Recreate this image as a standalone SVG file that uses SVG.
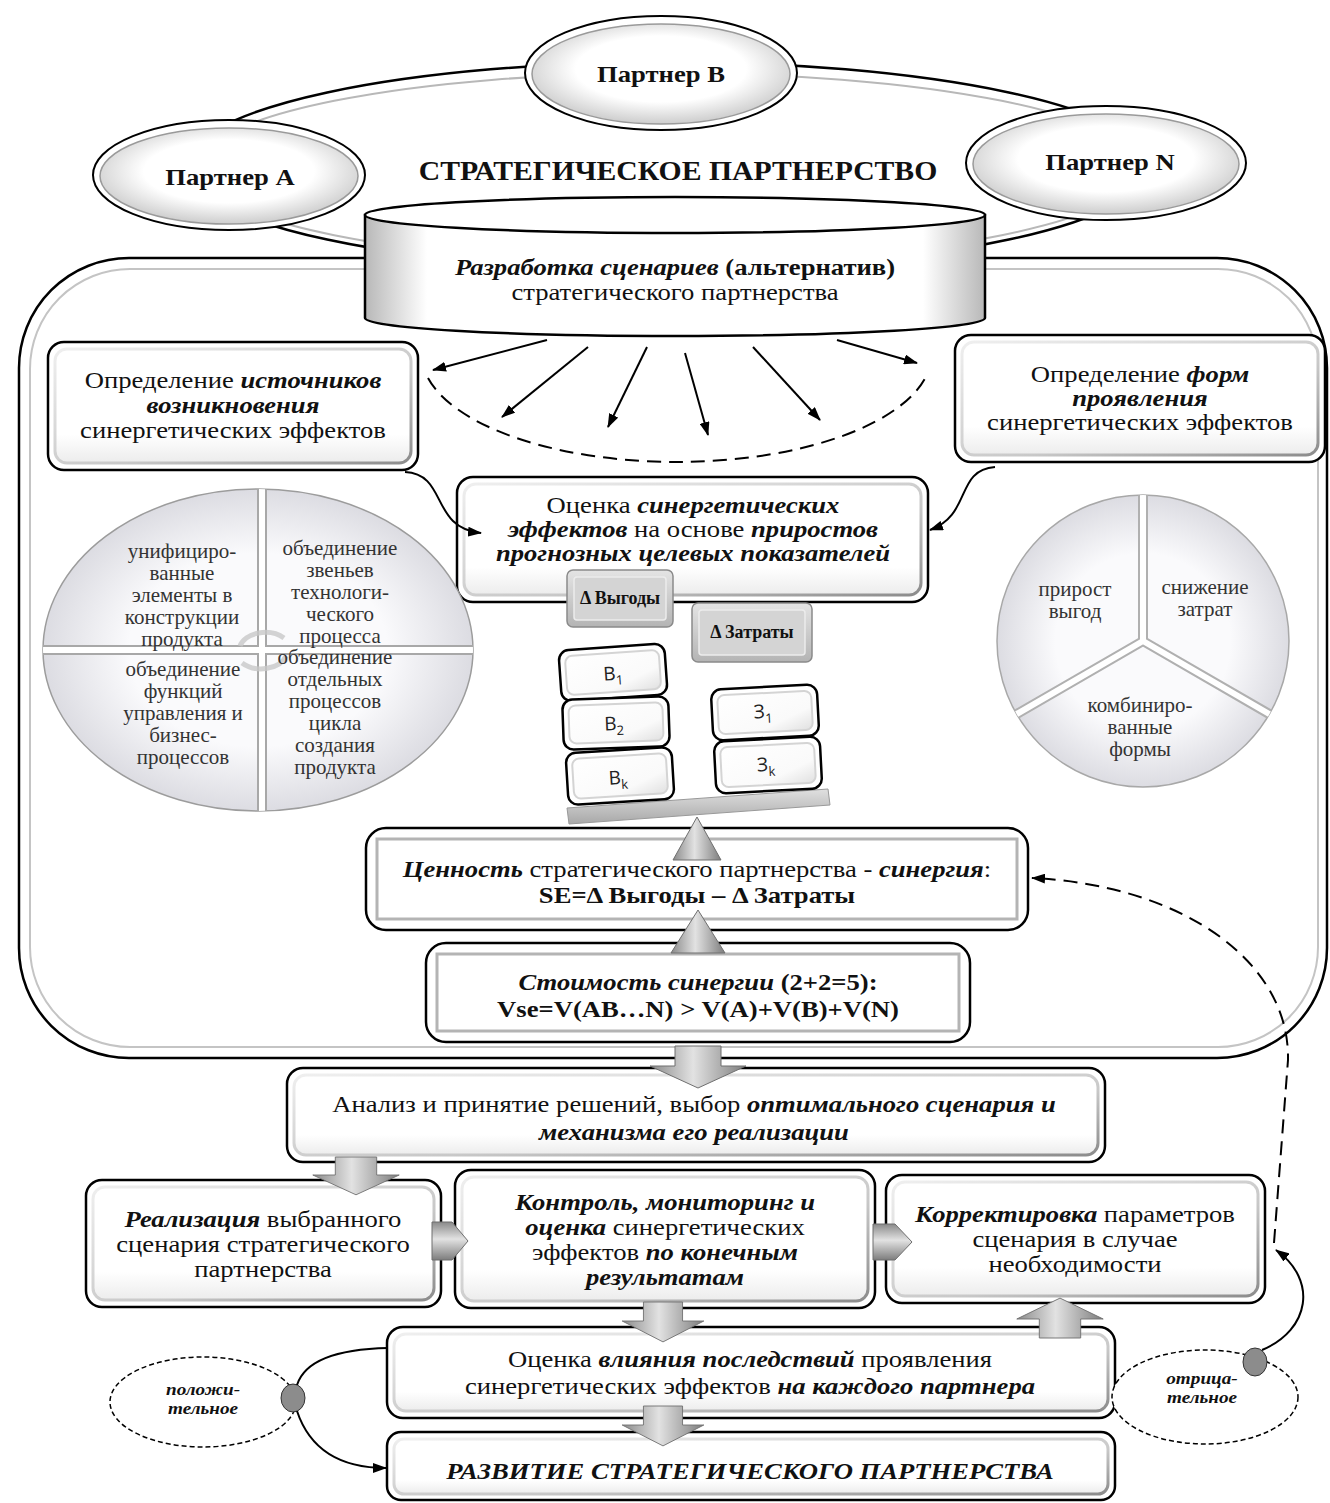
<svg xmlns="http://www.w3.org/2000/svg" width="1330" height="1503" viewBox="0 0 1330 1503">
<defs>
<style>
.t{font-family:"Liberation Serif","Times New Roman",serif;font-size:24px;fill:#111;text-anchor:middle}
.bi{font-weight:bold;font-style:italic}
.b{font-weight:bold}
.p{font-size:21px;fill:#333}
.tt{font-size:27px}
.sm{font-size:18px}
.xs{font-size:16px}
.ob{fill:#fff;stroke:#000;stroke-width:2.5}
.ib{fill:url(#inG);stroke:url(#bevG);stroke-width:3}
.sq{fill:none;stroke:#b4b4b4;stroke-width:3}
.c{fill:none;stroke:#000;stroke-width:2}
.d{stroke-dasharray:14 8}
.ga{fill:url(#arG);stroke:#6f6f6f;stroke-width:1}
.gv{fill:url(#arV);stroke:#6f6f6f;stroke-width:1}
.bin{fill:url(#blkG);stroke:#d4d4d4;stroke-width:2}
.s{font-family:"Open Sans","DejaVu Sans",sans-serif;font-size:19px;fill:#222;text-anchor:middle}
.sub{font-size:13px}
.pe{fill:#fff;stroke:#000;stroke-width:2}
.pi{fill:url(#ellG);stroke:#9a9a9a;stroke-width:1.5}
</style>
<linearGradient id="inG" x1="0" y1="0" x2="0" y2="1"><stop offset="0" stop-color="#fff"/><stop offset="0.75" stop-color="#fff"/><stop offset="1" stop-color="#ececec"/></linearGradient>
<linearGradient id="bevG" x1="0" y1="0" x2="1" y2="1"><stop offset="0" stop-color="#efefef"/><stop offset="0.6" stop-color="#c8c8c8"/><stop offset="1" stop-color="#8c8c8c"/></linearGradient>
<linearGradient id="arG" x1="0" y1="0" x2="1" y2="0"><stop offset="0" stop-color="#8a8a8a"/><stop offset="0.45" stop-color="#e2e2e2"/><stop offset="1" stop-color="#7d7d7d"/></linearGradient>
<linearGradient id="arV" x1="0" y1="0" x2="0" y2="1"><stop offset="0" stop-color="#8a8a8a"/><stop offset="0.45" stop-color="#e2e2e2"/><stop offset="1" stop-color="#7d7d7d"/></linearGradient>
<linearGradient id="blkG" x1="0" y1="0" x2="1" y2="1"><stop offset="0" stop-color="#fff"/><stop offset="0.7" stop-color="#fafafa"/><stop offset="1" stop-color="#e0e0e0"/></linearGradient>
<linearGradient id="btnG" x1="0" y1="0" x2="0" y2="1"><stop offset="0" stop-color="#e4e4e4"/><stop offset="1" stop-color="#b4b4b4"/></linearGradient>
<linearGradient id="cylG" x1="0" y1="0" x2="1" y2="0"><stop offset="0" stop-color="#b8b8b8"/><stop offset="0.1" stop-color="#fff"/><stop offset="0.9" stop-color="#fff"/><stop offset="1" stop-color="#b8b8b8"/></linearGradient>
<radialGradient id="ellG" cx="0.5" cy="0.45" r="0.55"><stop offset="0.6" stop-color="#fff"/><stop offset="1" stop-color="#cdcdcd"/></radialGradient>
<radialGradient id="pieG" cx="0.5" cy="0.5" r="0.5"><stop offset="0.6" stop-color="#fafafc"/><stop offset="1" stop-color="#dcdce2"/></radialGradient>
<linearGradient id="beamG" x1="0" y1="0" x2="0" y2="1"><stop offset="0" stop-color="#e0e0e0"/><stop offset="1" stop-color="#a8a8a8"/></linearGradient>
<marker id="ah" viewBox="0 0 14 10" refX="13" refY="5" markerWidth="14" markerHeight="10" markerUnits="userSpaceOnUse" orient="auto"><path d="M0,0 L14,5 L0,10 z" fill="#000"/></marker>
<path id="dA" d="M -23 0 H 23 V 20 H 48 L 0 42 L -48 20 H -23 Z"/>
<clipPath id="lpC"><ellipse cx="258" cy="650" rx="215" ry="161"/></clipPath>
<clipPath id="rpC"><circle cx="1143" cy="641" r="146"/></clipPath>
</defs>

<rect width="1330" height="1503" fill="#fff"/>

<!-- partnership ring -->
<g id="ring">
<ellipse cx="668" cy="166" rx="482" ry="104" fill="#fff" stroke="#000" stroke-width="2.5"/>
<ellipse cx="668" cy="168" rx="472" ry="95" fill="none" stroke="#b8b8b8" stroke-width="2"/>
</g>

<g id="partnerB">
<ellipse class="pe" cx="661" cy="73" rx="136" ry="57"/>
<ellipse class="pi" cx="661" cy="74" rx="129" ry="50"/>
<g transform="translate(661 0) scale(1.11 1)"><text class="t b" x="0" y="82">Партнер В</text></g>
</g>
<g id="partnerA">
<ellipse class="pe" cx="229" cy="175" rx="136" ry="55"/>
<ellipse class="pi" cx="229" cy="176" rx="129" ry="48"/>
<g transform="translate(230 0) scale(1.11 1)"><text class="t b" x="0" y="185">Партнер А</text></g>
</g>
<g id="partnerN">
<ellipse class="pe" cx="1106" cy="163" rx="140" ry="57"/>
<ellipse class="pi" cx="1106" cy="164" rx="133" ry="50"/>
<g transform="translate(1110 0) scale(1.11 1)"><text class="t b" x="0" y="170">Партнер N</text></g>
</g>

<g id="title" transform="translate(678 0) scale(1.1 1)"><text class="t b tt" x="0" y="180">СТРАТЕГИЧЕСКОЕ ПАРТНЕРСТВО</text></g>

<!-- big container -->
<g id="container">
<rect x="19" y="258" width="1308" height="800" rx="110" fill="#fff" stroke="#000" stroke-width="2.5"/>
<rect x="30" y="269" width="1288" height="778" rx="100" fill="none" stroke="#c4c4c4" stroke-width="2"/>
</g>

<!-- cylinder -->
<g id="scenarios">
<path d="M 365 215 L 365 318 A 310 18 0 0 0 985 318 L 985 215 Z" fill="url(#cylG)" stroke="#000" stroke-width="2.5"/>
<ellipse cx="675" cy="215" rx="310" ry="18" fill="#fff" stroke="#000" stroke-width="2.5"/>
<g transform="translate(675 0) scale(1.11 1)">
<text class="t" x="0" y="275"><tspan class="bi">Разработка сценариев</tspan><tspan class="b"> (альтернатив)</tspan></text>
<text class="t" x="0" y="300">стратегического партнерства</text>
</g>
</g>

<g id="sources">
<rect class="ob" x="48" y="342" width="370" height="128" rx="16"/>
<rect class="ib" x="55" y="349" width="356" height="114" rx="12"/>
<g transform="translate(233 0) scale(1.11 1)">
<text class="t" x="0" y="388">Определение <tspan class="bi">источников</tspan></text>
<text class="t bi" x="0" y="413">возникновения</text>
<text class="t" x="0" y="438">синергетических эффектов</text>
</g>
</g>

<g id="forms">
<rect class="ob" x="955" y="335" width="370" height="127" rx="16"/>
<rect class="ib" x="962" y="342" width="356" height="113" rx="12"/>
<g transform="translate(1140 0) scale(1.11 1)">
<text class="t" x="0" y="382">Определение <tspan class="bi">форм</tspan></text>
<text class="t bi" x="0" y="406">проявления</text>
<text class="t" x="0" y="430">синергетических эффектов</text>
</g>
</g>

<g id="evaluation">
<rect class="ob" x="457" y="477" width="471" height="125" rx="16"/>
<rect class="ib" x="464" y="484" width="457" height="111" rx="12"/>
<g transform="translate(693 0) scale(1.11 1)">
<text class="t" x="0" y="513">Оценка <tspan class="bi">синергетических</tspan></text>
<text class="t" x="0" y="537"><tspan class="bi">эффектов</tspan> на основе <tspan class="bi">приростов</tspan></text>
<text class="t bi" x="0" y="561">прогнозных целевых показателей</text>
</g>
</g>

<!-- left pie -->
<g id="sourcesPie">
<ellipse cx="258" cy="650" rx="215" ry="161" fill="url(#pieG)" stroke="#9c9c9c" stroke-width="1.5"/>
<g clip-path="url(#lpC)">
<line x1="30" y1="650" x2="490" y2="650" stroke="#a8a8a8" stroke-width="10"/>
<line x1="262" y1="480" x2="262" y2="820" stroke="#a8a8a8" stroke-width="10"/>
<line x1="30" y1="650" x2="490" y2="650" stroke="#fff" stroke-width="6"/>
<line x1="262" y1="480" x2="262" y2="820" stroke="#fff" stroke-width="6"/>
</g>
<path d="M 240 646 A 26 18 0 0 1 284 638 M 286 656 A 26 18 0 0 1 242 663" fill="none" stroke="#c8c8c8" stroke-width="5" opacity="0.8"/>
<text class="t p" x="182" y="558">унифициро-</text>
<text class="t p" x="182" y="580">ванные</text>
<text class="t p" x="182" y="602">элементы в</text>
<text class="t p" x="182" y="624">конструкции</text>
<text class="t p" x="182" y="646">продукта</text>
<text class="t p" x="340" y="555">объединение</text>
<text class="t p" x="340" y="577">звеньев</text>
<text class="t p" x="340" y="599">технологи-</text>
<text class="t p" x="340" y="621">ческого</text>
<text class="t p" x="340" y="643">процесса</text>
<text class="t p" x="183" y="676">объединение</text>
<text class="t p" x="183" y="698">функций</text>
<text class="t p" x="183" y="720">управления и</text>
<text class="t p" x="183" y="742">бизнес-</text>
<text class="t p" x="183" y="764">процессов</text>
<text class="t p" x="335" y="664">объединение</text>
<text class="t p" x="335" y="686">отдельных</text>
<text class="t p" x="335" y="708">процессов</text>
<text class="t p" x="335" y="730">цикла</text>
<text class="t p" x="335" y="752">создания</text>
<text class="t p" x="335" y="774">продукта</text>
</g>

<!-- right pie -->
<g id="formsPie">
<circle cx="1143" cy="641" r="146" fill="url(#pieG)" stroke="#a8a8a8" stroke-width="1.5"/>
<g clip-path="url(#rpC)">
<path d="M 1143 641 L 1143 480 M 1143 641 L 1003 722 M 1143 641 L 1283 722" stroke="#b0b0b0" stroke-width="10" fill="none"/>
<path d="M 1143 641 L 1143 480 M 1143 641 L 1003 722 M 1143 641 L 1283 722" stroke="#fff" stroke-width="6" fill="none"/>
</g>
<text class="t p" x="1075" y="596">прирост</text>
<text class="t p" x="1075" y="618">выгод</text>
<text class="t p" x="1205" y="594">снижение</text>
<text class="t p" x="1205" y="616">затрат</text>
<text class="t p" x="1140" y="712">комбиниро-</text>
<text class="t p" x="1140" y="734">ванные</text>
<text class="t p" x="1140" y="756">формы</text>
</g>

<!-- balance -->
<g id="benefits">
<rect x="567" y="570" width="106" height="57" rx="6" fill="url(#btnG)" stroke="#8a8a8a" stroke-width="1.5"/>
<rect x="574" y="577" width="92" height="43" rx="3" fill="#d4d4d4" stroke="#ececec" stroke-width="1.5"/>
<text class="t b sm" x="620" y="604">Δ Выгоды</text>
</g>
<g id="costs">
<rect x="692" y="603" width="120" height="59" rx="6" fill="url(#btnG)" stroke="#8a8a8a" stroke-width="1.5"/>
<rect x="699" y="610" width="106" height="45" rx="3" fill="#d4d4d4" stroke="#ececec" stroke-width="1.5"/>
<text class="t b sm" x="752" y="638">Δ Затраты</text>
</g>
<g id="beam">
<polygon points="567,808 828,789 830,805 569,824" fill="url(#beamG)" stroke="#999" stroke-width="1"/>
</g>
<g id="B1" transform="rotate(-4 613 672)">
<rect class="ob" x="560" y="647" width="106" height="51" rx="10"/>
<rect class="bin" x="566" y="653" width="94" height="39" rx="7"/>
<text class="s" x="613" y="680">В<tspan class="sub" dy="5">1</tspan></text>
</g>
<g id="B2" transform="rotate(-2 616 723)">
<rect class="ob" x="563" y="698" width="106" height="50" rx="10"/>
<rect class="bin" x="569" y="704" width="94" height="38" rx="7"/>
<text class="s" x="614" y="730">В<tspan class="sub" dy="5">2</tspan></text>
</g>
<g id="Bk" transform="rotate(-3.5 620 776)">
<rect class="ob" x="567" y="750" width="106" height="52" rx="10"/>
<rect class="bin" x="573" y="756" width="94" height="40" rx="7"/>
<text class="s" x="618" y="784">В<tspan class="sub" dy="5">k</tspan></text>
</g>
<g id="Z1" transform="rotate(-3 765 712)">
<rect class="ob" x="712" y="687" width="106" height="51" rx="10"/>
<rect class="bin" x="718" y="693" width="94" height="39" rx="7"/>
<text class="s" x="763" y="718">З<tspan class="sub" dy="5">1</tspan></text>
</g>
<g id="Zk" transform="rotate(-3 768 765)">
<rect class="ob" x="715" y="739" width="106" height="52" rx="10"/>
<rect class="bin" x="721" y="745" width="94" height="40" rx="7"/>
<text class="s" x="766" y="771">З<tspan class="sub" dy="5">k</tspan></text>
</g>

<g id="value">
<rect class="ob" x="366" y="828" width="662" height="102" rx="20"/>
<rect class="sq" x="377" y="839" width="640" height="80"/>
<g transform="translate(697 0) scale(1.11 1)">
<text class="t" x="0" y="877"><tspan class="bi">Ценность</tspan> стратегического партнерства - <tspan class="bi">синергия</tspan>:</text>
<text class="t b" x="0" y="903">SE=Δ Выгоды – Δ Затраты</text>
</g>
</g>
<polygon id="fulcrum" class="ga" points="697,817 673,860 721,860"/>

<g id="synergyCost">
<rect class="ob" x="426" y="943" width="544" height="99" rx="20"/>
<rect class="sq" x="437" y="954" width="522" height="77"/>
<g transform="translate(698 0) scale(1.11 1)">
<text class="t" x="0" y="990"><tspan class="bi">Стоимость синергии</tspan><tspan class="b"> (2+2=5):</tspan></text>
<text class="t b" x="0" y="1017">Vse=V(AB…N) &gt; V(A)+V(B)+V(N)</text>
</g>
</g>
<polygon id="tri2" class="ga" points="698,910 671,953 725,953"/>

<g id="analysis">
<rect class="ob" x="287" y="1068" width="818" height="94" rx="16"/>
<rect class="ib" x="294" y="1075" width="804" height="80" rx="12"/>
<g transform="translate(694 0) scale(1.11 1)">
<text class="t" x="0" y="1112">Анализ и принятие решений, выбор <tspan class="bi">оптимального сценария и</tspan></text>
<text class="t bi" x="0" y="1140">механизма его реализации</text>
</g>
</g>

<g id="implementation">
<rect class="ob" x="86" y="1180" width="355" height="127" rx="16"/>
<rect class="ib" x="93" y="1187" width="341" height="113" rx="12"/>
<g transform="translate(263 0) scale(1.11 1)">
<text class="t" x="0" y="1227"><tspan class="bi">Реализация</tspan> выбранного</text>
<text class="t" x="0" y="1252">сценария стратегического</text>
<text class="t" x="0" y="1277">партнерства</text>
</g>
</g>

<g id="control">
<rect class="ob" x="455" y="1170" width="420" height="138" rx="16"/>
<rect class="ib" x="462" y="1177" width="406" height="124" rx="12"/>
<g transform="translate(665 0) scale(1.11 1)">
<text class="t bi" x="0" y="1210">Контроль, мониторинг и</text>
<text class="t" x="0" y="1235"><tspan class="bi">оценка</tspan> синергетических</text>
<text class="t" x="0" y="1260">эффектов <tspan class="bi">по конечным</tspan></text>
<text class="t bi" x="0" y="1285">результатам</text>
</g>
</g>

<g id="correction">
<rect class="ob" x="886" y="1175" width="379" height="128" rx="16"/>
<rect class="ib" x="893" y="1182" width="365" height="114" rx="12"/>
<g transform="translate(1075 0) scale(1.11 1)">
<text class="t" x="0" y="1222"><tspan class="bi">Корректировка</tspan> параметров</text>
<text class="t" x="0" y="1247">сценария в случае</text>
<text class="t" x="0" y="1272">необходимости</text>
</g>
</g>

<g id="impact">
<rect class="ob" x="387" y="1327" width="728" height="91" rx="16"/>
<rect class="ib" x="394" y="1334" width="714" height="77" rx="12"/>
<g transform="translate(750 0) scale(1.11 1)">
<text class="t" x="0" y="1367">Оценка <tspan class="bi">влияния последствий</tspan> проявления</text>
<text class="t" x="0" y="1394">синергетических эффектов <tspan class="bi">на каждого партнера</tspan></text>
</g>
</g>

<g id="development">
<rect class="ob" x="387" y="1432" width="728" height="68" rx="14"/>
<rect class="ib" x="394" y="1439" width="714" height="55" rx="10"/>
<g transform="translate(750 0) scale(1.11 1)">
<text class="t bi" x="0" y="1479">РАЗВИТИЕ СТРАТЕГИЧЕСКОГО ПАРТНЕРСТВА</text>
</g>
</g>

<g id="positive">
<ellipse cx="203" cy="1402" rx="93" ry="45" fill="#fff" stroke="#000" stroke-width="1.5" stroke-dasharray="5 3"/>
<g transform="translate(203 0) scale(1.2 1)">
<text class="t bi xs" x="0" y="1395">положи-</text>
<text class="t bi xs" x="0" y="1414">тельное</text>
</g>
<ellipse cx="293" cy="1398" rx="12" ry="14" fill="#8c8c8c" stroke="#333" stroke-width="1"/>
</g>
<g id="negative">
<ellipse cx="1205" cy="1397" rx="93" ry="47" fill="#fff" stroke="#000" stroke-width="1.5" stroke-dasharray="5 3"/>
<g transform="translate(1202 0) scale(1.2 1)">
<text class="t bi xs" x="0" y="1384">отрица-</text>
<text class="t bi xs" x="0" y="1403">тельное</text>
</g>
<ellipse cx="1255" cy="1362" rx="12" ry="14" fill="#8c8c8c" stroke="#333" stroke-width="1"/>
</g>

<!-- connectors -->
<g id="connectors">
<path class="c d" d="M 428 378 A 255 108 0 0 0 928 372" stroke-width="2.5"/>
<g stroke-width="2.5">
<path class="c" d="M 547 340 L 433 370" marker-end="url(#ah)"/>
<path class="c" d="M 588 347 L 502 417" marker-end="url(#ah)"/>
<path class="c" d="M 647 347 L 608 427" marker-end="url(#ah)"/>
<path class="c" d="M 685 353 L 708 435" marker-end="url(#ah)"/>
<path class="c" d="M 753 347 L 820 420" marker-end="url(#ah)"/>
<path class="c" d="M 837 340 L 917 363" marker-end="url(#ah)"/>
</g>
<path class="c" d="M 405 472 C 448 474, 430 528, 481 533" stroke-width="1.5" marker-end="url(#ah)"/>
<path class="c" d="M 995 467 C 955 470, 972 515, 930 530" stroke-width="1.5" marker-end="url(#ah)"/>
<path class="c d" d="M 1274 1243 L 1288 1060 C 1290 960, 1180 885, 1032 878" marker-end="url(#ah)"/>
<path class="c" d="M 297 1385 C 305 1360, 340 1349, 388 1348"/>
<path class="c" d="M 297 1411 C 310 1450, 340 1468, 386 1468" marker-end="url(#ah)"/>
<path class="c" d="M 1262 1350 C 1310 1330, 1318 1280, 1276 1250" marker-end="url(#ah)"/>
<use href="#dA" class="ga" transform="translate(698 1046)"/>
<use href="#dA" class="ga" transform="translate(356 1157) scale(0.9)"/>
<use href="#dA" class="ga" transform="translate(663 1302) scale(0.85 0.95)"/>
<use href="#dA" class="ga" transform="translate(663 1406) scale(0.85 0.95)"/>
<use href="#dA" class="ga" transform="translate(1060 1338) scale(0.9 -0.95)"/>
<polygon class="gv" points="432,1222 452,1222 468,1241 452,1260 432,1260"/>
<polygon class="gv" points="873,1224 895,1224 912,1242 895,1260 873,1260"/>
</g>
</svg>
